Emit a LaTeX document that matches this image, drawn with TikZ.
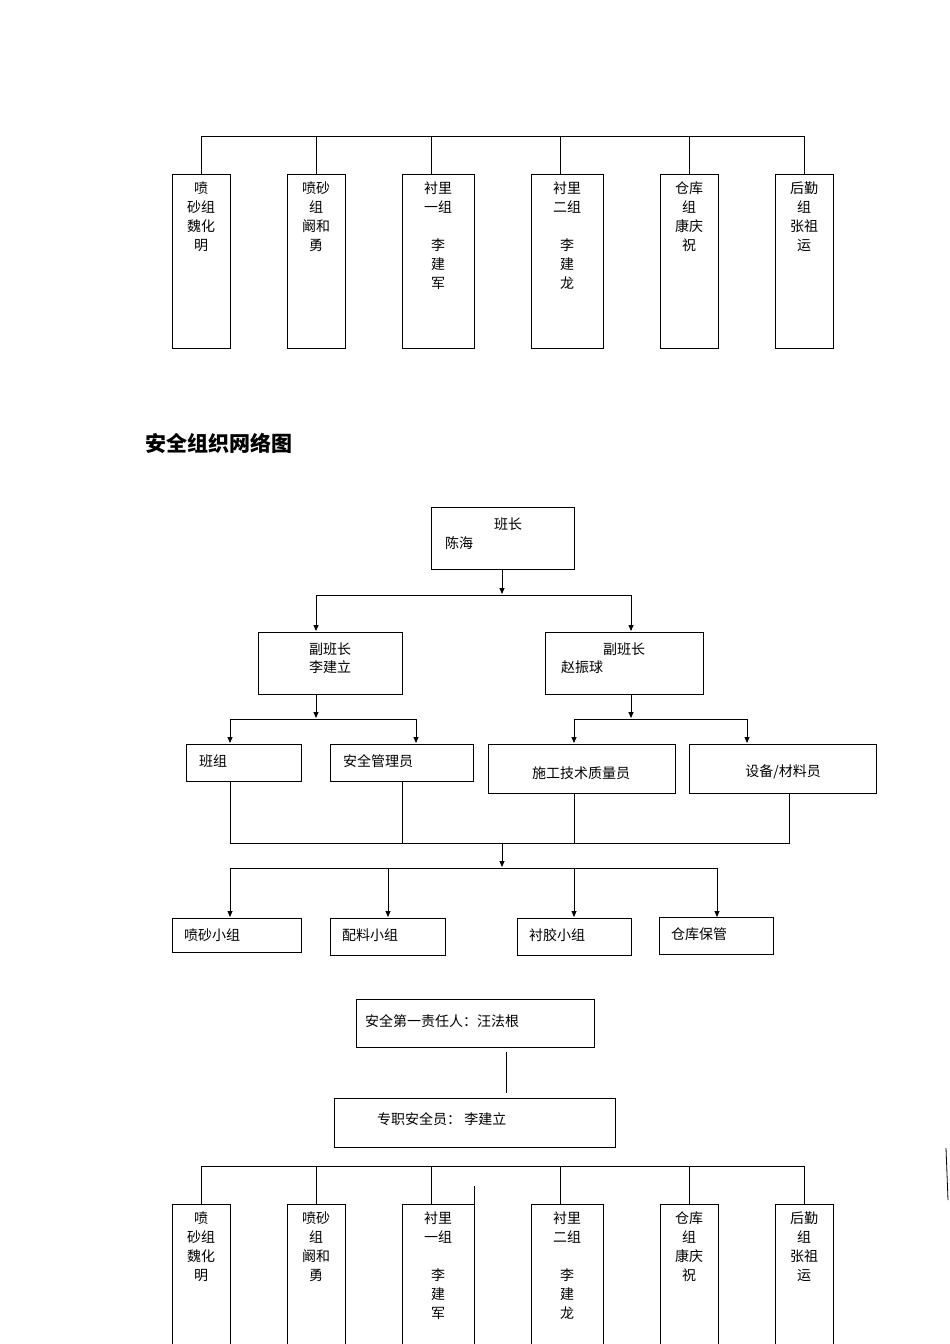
\documentclass[tikz,border=0pt]{standalone}
\usepackage{fontspec}
\setmainfont{Liberation Serif}
\newfontfamily\cjk{Noto Sans CJK SC}
\usetikzlibrary{arrows.meta}
\begin{document}
\begin{tikzpicture}[x=1pt,y=-1pt,
 bx/.style={draw,line width=0.8pt},
 ln/.style={line width=0.8pt},
 ar/.style={line width=0.8pt,-{Triangle[length=6pt,width=5pt]}},
 t/.style={font=\cjk\fontsize{14}{16}\selectfont,inner sep=0pt},
 col/.style={font=\cjk\fontsize{14}{19}\selectfont,inner sep=0pt,align=center,anchor=north}]
\useasboundingbox (0,0) rectangle (950,1344);
% group rows
\foreach \top/\bot/\ly in {174/348/136,1204/1360/1166}{
 \draw[ln] (201,\ly) -- (804,\ly);
 \foreach \l/\r/\c/\txt in {172/230/201/{喷\\砂组\\魏化\\明},287/345/316/{喷砂\\组\\阚和\\勇},402/474/431/{衬里\\一组\\ \\李\\建\\军},531/603/560/{衬里\\二组\\ \\李\\建\\龙},660/718/689/{仓库\\组\\康庆\\祝},775/833/804/{后勤\\组\\张祖\\运}}{
  \draw[bx] (\l,\top) rectangle (\r,\bot);
  \draw[ln] (\c,\ly) -- (\c,\top);
  \node[col] at ({(\l+\r)/2},\top+8) {\txt};
 }
}
\node[font=\cjk\bfseries\fontsize{21}{24}\selectfont,anchor=west,inner sep=0pt] (title) at (145,443) {安全组织网络图};
% org chart
\draw[bx] (431,507) rectangle (574,569);
\node[t] (bz) at (508,524) {班长};
\node[t] at (459,543) {陈海};
\draw[bx] (258,632) rectangle (402,694);
\node[t] at (330,649) {副班长}; \node[t] at (330,667) {李建立};
\draw[bx] (545,632) rectangle (703,694);
\node[t] at (624,649) {副班长}; \node[t] at (582,667) {赵振球};
\draw[ar] (502,569) -- (502,594);
\draw[ln] (316,595) -- (631,595);
\draw[ar] (316,595) -- (316,631);
\draw[ar] (631,595) -- (631,631);
\draw[ar] (316,694) -- (316,718);
\draw[ln] (230,719) -- (416,719);
\draw[ar] (230,719) -- (230,743);
\draw[ar] (416,719) -- (416,743);
\draw[ar] (631,694) -- (631,718);
\draw[ln] (574,719) -- (747,719);
\draw[ar] (574,719) -- (574,743);
\draw[ar] (747,719) -- (747,743);
\draw[bx] (186,744) rectangle (301,781); \node[t,anchor=west] at (199,761) {班组};
\draw[bx] (330,744) rectangle (473,781); \node[t,anchor=west] at (343,761) {安全管理员};
\draw[bx] (488,744) rectangle (675,793); \node[t] at (581,773) {施工技术质量员};
\draw[bx] (689,744) rectangle (876,793); \node[t] at (783,772) {设备/材料员};
\draw[ln] (230,781) -- (230,843) -- (789,843) -- (789,793);
\draw[ln] (402,781) -- (402,843);
\draw[ln] (574,793) -- (574,843);
\draw[ar] (502,843) -- (502,867);
\draw[ln] (230,868) -- (717,868);
\foreach \x in {230,388,574,717} \draw[ar] (\x,868) -- (\x,917);
\draw[bx] (172,918) rectangle (301,952); \node[t,anchor=west] at (184,935) {喷砂小组};
\draw[bx] (330,918) rectangle (445,955); \node[t,anchor=west] at (342,935) {配料小组};
\draw[bx] (517,918) rectangle (631,955); \node[t,anchor=west] at (529,935) {衬胶小组};
\draw[bx] (659,917) rectangle (773,954); \node[t,anchor=west] at (671,934) {仓库保管};
% safety
\draw[bx] (356,999) rectangle (594,1047);
\node[t,anchor=west] at (365,1021) {安全第一责任人：汪法根};
\draw[ln] (506,1052) -- (506,1093);
\draw[bx] (334,1098) rectangle (615,1147);
\node[t,anchor=west] at (377,1119) {专职安全员：\ 李建立};
\draw[ln] (474,1186) -- (474,1220);
\draw[ln] (946,1148) -- (948,1200);
\end{tikzpicture}
\end{document}
